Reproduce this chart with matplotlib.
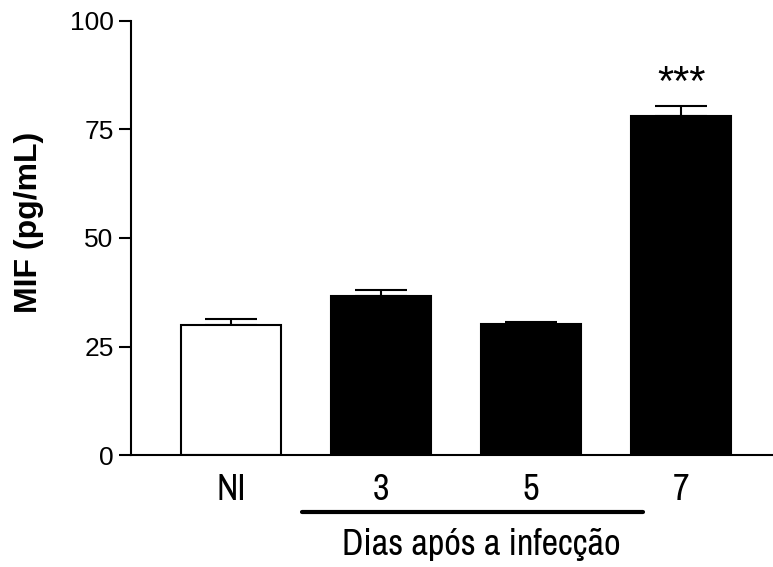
import matplotlib
matplotlib.use("Agg")
import matplotlib.pyplot as plt
import matplotlib.transforms as mtransforms

plt.rcParams['font.family'] = ['Liberation Sans', 'DejaVu Sans']
narrow = ['Archivo Narrow', 'Liberation Sans', 'DejaVu Sans']

groups = ['NI', '3', '5', '7']
mif = [30.0, 36.6, 30.2, 78.1]
sem = [1.3, 1.4, 0.4, 2.3]
fills = ['white', 'black', 'black', 'black']
stars = ['', '', '', '***']

fig = plt.figure(figsize=(7.73, 5.67), dpi=100)
ax = fig.add_axes([0.1695, 0.1975, 0.8305, 0.7655])

x = list(range(len(groups)))
ax.bar(x, mif, width=0.667, color=fills, edgecolor='black', linewidth=1.5, zorder=2)
ax.errorbar(x, mif, yerr=[[0] * len(sem), sem], fmt='none', ecolor='black',
            elinewidth=1.5, capsize=18.5, capthick=1.5, zorder=1)

for xi, m, s, st in zip(x, mif, sem, stars):
    if st:
        ax.text(xi, m + s + 5.0, st, ha='center', va='center', fontsize=30)

ax.set_xlim(-0.667, 3.613)
ax.set_ylim(0, 100)
ax.set_yticks([0, 25, 50, 75, 100])
ax.set_xticks(x)
ax.set_xticklabels(groups, family=narrow)
ax.tick_params(axis='x', length=0, pad=13, labelsize=26)
ax.tick_params(axis='y', length=9, width=1.5, pad=3.5, labelsize=19)
ax.spines['top'].set_visible(False)
ax.spines['right'].set_visible(False)
ax.spines['left'].set_linewidth(1.5)
ax.spines['bottom'].set_linewidth(1.5)
fig.text(0.037, 0.607, 'MIF (pg/mL)', rotation=90, ha='center', va='center',
         fontsize=23, fontweight='bold')

# grouping line under the infected days
trans = mtransforms.blended_transform_factory(ax.transData, ax.transAxes)
ax.plot([0.473, 2.747], [-0.131, -0.131], color='black', linewidth=3,
        solid_capstyle='round', transform=trans, clip_on=False)
ax.text(1.67, -0.207, 'Dias após a infecção', ha='center', va='center',
        fontsize=26, family=narrow, transform=trans)

fig.savefig('out.png', dpi=100)
